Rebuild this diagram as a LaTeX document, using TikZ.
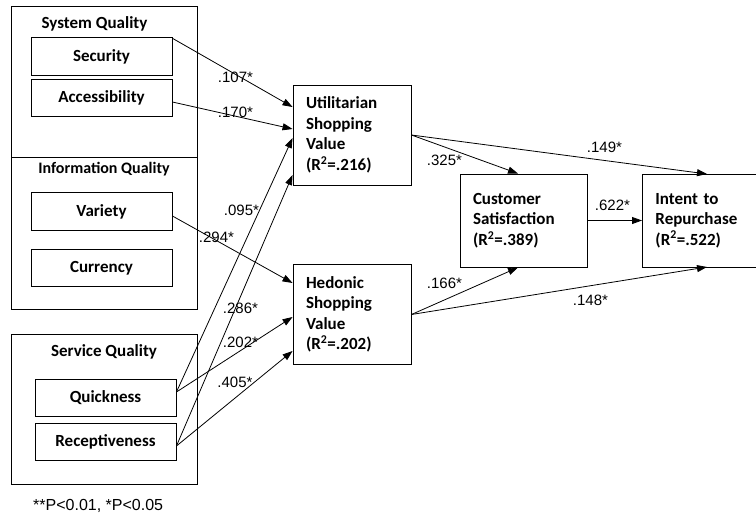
\documentclass[tikz,border=0pt]{standalone}
\usepackage{fontspec}
\setmainfont{Carlito}
\newfontfamily\labelfont{Liberation Sans}
\usepackage{tikz}
\usetikzlibrary{arrows.meta, positioning}

\begin{document}
\begin{tikzpicture}[x=1pt, y=-1pt,
  group/.style={draw, line width=0.9pt, inner sep=0pt, minimum width=186pt},
  title/.style={font=\fontsize{#1}{20}\selectfont\bfseries, inner sep=0pt},
  item/.style={draw, line width=0.9pt, inner sep=0pt, minimum width=141pt, minimum height=37.5pt, font=\fontsize{17}{20}\selectfont\bfseries},
  construct/.style={draw, line width=0.9pt, inner xsep=13pt, inner ysep=0pt, text width=#1, align=left, minimum height=100pt, font=\fontsize{17}{20.5}\selectfont\bfseries},
  arr/.style={-{Triangle[length=10pt, width=7pt]}, line width=0.8pt},
  coef/.style={font=\labelfont\fontsize{15}{17}\selectfont, inner sep=0pt},
]
  \useasboundingbox (0,0) rectangle (756,517);
  \clip (0,0) rectangle (756,517);

  \node[group, minimum height=151pt] (sysq) at (104,81.5) {};
  \node[group, minimum height=152pt] (infoq) at (104,233) {};
  \node[group, minimum height=150pt] (servq) at (104,409) {};
  \node[title=17] (sysqt) at (94.5,24) {System Quality};
  \node[title=16] (infoqt) at (104,169) {Information Quality};
  \node[title=17] (servqt) at (104,352) {Service Quality};

  \node[item] (sec) at (101.5,56.5) {Security};
  \node[item] (acc) at (101.5,98) {Accessibility};
  \node[item] (var) at (101.5,211.5) {Variety};
  \node[item] (cur) at (101.5,268) {Currency};
  \node[item] (quick) at (105.5,398) {Quickness};
  \node[item] (recep) at (105.5,442) {Receptiveness};

  \node[construct=92pt] (util) at (352,135) {Utilitarian\\ Shopping\\ Value\\ (R\textsuperscript{2}=.216)};
  \node[construct=92pt] (hed) at (352,314.5) {Hedonic\\ Shopping\\ Value\\ (R\textsuperscript{2}=.202)};
  \node[construct=101pt, minimum height=93pt] (sat) at (523.5,220.5) {Customer\\ Satisfaction\\ (R\textsuperscript{2}=.389)};
  \node[construct=160pt, minimum height=93pt, anchor=west] (rep) at (642,220.5) {Intent to\\ Repurchase\\ (R\textsuperscript{2}=.522)};
  \coordinate (reptop) at (707,174);
  \coordinate (repbot) at (707,267);

  \draw[arr] ([yshift=-1pt]sec.north east) -- ([yshift=28pt]util.west);
  \draw[arr] ([yshift=-4pt]acc.east) -- ([yshift=6pt]util.west);
  \draw[arr] ([yshift=-4.5pt]var.east) -- ([yshift=31.5pt]hed.west);
  \draw[arr] ([yshift=6pt]quick.east) -- ([yshift=-3pt]util.west);
  \draw[arr] ([yshift=6pt]quick.east) -- ([yshift=-2.5pt]hed.west);
  \draw[arr] ([yshift=-4pt]recep.east) -- ([yshift=-40pt]util.west);
  \draw[arr] ([yshift=-4pt]recep.east) -- ([yshift=-36.5pt]hed.west);
  \draw[arr] (util.east) -- ([xshift=-5.5pt]sat.north);
  \draw[arr] (util.east) -- (reptop);
  \draw[arr] (sat.east) -- (rep.west);
  \draw[arr] (hed.east) -- ([xshift=-5.5pt]sat.south);
  \draw[arr] (hed.east) -- (repbot);

  \node[coef] (c107) at (235.5,77) {.107*};
  \node[coef] (c170) at (235.5,112) {.170*};
  \node[coef] (c294) at (216.5,237) {.294*};
  \node[coef] (c095) at (241.5,210) {.095*};
  \node[coef] (c286) at (240.5,308) {.286*};
  \node[coef] (c202) at (240.5,342) {.202*};
  \node[coef] (c405) at (235,382) {.405*};
  \node[coef] (c325) at (444.5,160) {.325*};
  \node[coef] (c149) at (604.5,147) {.149*};
  \node[coef] (c622) at (612.5,205) {.622*};
  \node[coef] (c166) at (444.5,283) {.166*};
  \node[coef] (c148) at (590.5,300) {.148*};

  \node[coef, anchor=west, font=\labelfont\fontsize{16}{18}\selectfont] (note) at (33,506) {**P<0.01, *P<0.05};
\end{tikzpicture}
\end{document}
